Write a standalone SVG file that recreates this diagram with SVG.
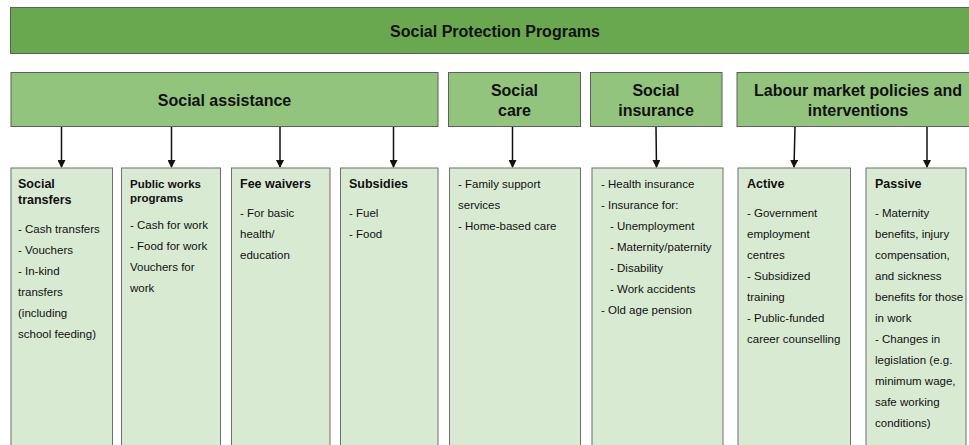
<svg xmlns="http://www.w3.org/2000/svg" width="969" height="445" viewBox="0 0 969 445">
<style>
.top{fill:#6aa84f;stroke:#5f5f5f;stroke-width:1}
.mid{fill:#93c47d;stroke:#5f5f5f;stroke-width:1}
.low{fill:#d9ead3;stroke:#6f6f6f;stroke-width:1}
text{font-family:"Liberation Sans",Arial,sans-serif;fill:#111}
.t1{font-size:16px;font-weight:bold;text-anchor:middle}
.t2{font-size:16px;font-weight:bold;text-anchor:middle}
.h{font-size:12.5px;font-weight:bold}
.hs{font-size:11.5px;font-weight:bold}
.i{font-size:11.5px}
.conn line{stroke:#111;stroke-width:1.5}
</style>
<defs>
<marker id="ah" markerWidth="8" markerHeight="8" refX="7" refY="4" orient="auto" markerUnits="userSpaceOnUse">
<path d="M0,0 L8,4 L0,8 Z" fill="#111"/>
</marker>
</defs>
<rect width="969" height="445" fill="#fff"/>

<g id="root">
<rect class="top" x="10.5" y="7.5" width="975" height="46"/>
<text class="t1" x="495" y="37">Social Protection Programs</text>
</g>

<g id="social-assistance">
<rect class="mid" x="11" y="72.5" width="427" height="54"/>
<text class="t2" x="224.5" y="106">Social assistance</text>
</g>
<g id="social-care">
<rect class="mid" x="448.5" y="72.5" width="132" height="54"/>
<text class="t2" x="514.5" y="96">Social</text>
<text class="t2" x="514.5" y="116">care</text>
</g>
<g id="social-insurance">
<rect class="mid" x="590.5" y="72.5" width="131.5" height="54"/>
<text class="t2" x="656" y="96">Social</text>
<text class="t2" x="656" y="116">insurance</text>
</g>
<g id="labour-market">
<rect class="mid" x="737" y="72.5" width="245" height="54"/>
<text class="t2" x="858" y="96">Labour market policies and</text>
<text class="t2" x="858" y="116">interventions</text>
</g>

<g class="conn" id="connectors">
<line x1="61.5" y1="127" x2="61.5" y2="167" marker-end="url(#ah)"/>
<line x1="171.5" y1="127" x2="171.5" y2="167" marker-end="url(#ah)"/>
<line x1="280" y1="127" x2="280" y2="167" marker-end="url(#ah)"/>
<line x1="393.5" y1="127" x2="393.5" y2="167" marker-end="url(#ah)"/>
<line x1="512.5" y1="127" x2="512.5" y2="167" marker-end="url(#ah)"/>
<line x1="656" y1="127" x2="656.5" y2="167" marker-end="url(#ah)"/>
<line x1="795" y1="127" x2="794" y2="167" marker-end="url(#ah)"/>
<line x1="927" y1="127" x2="927" y2="167" marker-end="url(#ah)"/>
</g>

<g id="social-transfers">
<rect class="low" x="11" y="168" width="101.5" height="290"/>
<text class="h" x="18" y="188">Social</text>
<text class="h" x="18" y="204">transfers</text>
<text class="i" x="18" y="232.5">- Cash transfers</text>
<text class="i" x="18" y="253.5">- Vouchers</text>
<text class="i" x="18" y="274.5">- In-kind</text>
<text class="i" x="18" y="295.5">transfers</text>
<text class="i" x="18" y="316.5">(including</text>
<text class="i" x="18" y="337.5">school feeding)</text>
</g>

<g id="public-works">
<rect class="low" x="121.5" y="168" width="99" height="290"/>
<text class="hs" x="130" y="187.5">Public works</text>
<text class="hs" x="130" y="201.5">programs</text>
<text class="i" x="130" y="229">- Cash for work</text>
<text class="i" x="130" y="250">- Food for work</text>
<text class="i" x="130" y="271">Vouchers for</text>
<text class="i" x="130" y="292">work</text>
</g>

<g id="fee-waivers">
<rect class="low" x="231.5" y="168" width="98.5" height="290"/>
<text class="h" x="240" y="188">Fee waivers</text>
<text class="i" x="240" y="216.5">- For basic</text>
<text class="i" x="240" y="237.5">health/</text>
<text class="i" x="240" y="258.5">education</text>
</g>

<g id="subsidies">
<rect class="low" x="340.5" y="168" width="97.5" height="290"/>
<text class="h" x="349" y="188">Subsidies</text>
<text class="i" x="349" y="216.5">- Fuel</text>
<text class="i" x="349" y="237.5">- Food</text>
</g>

<g id="social-care-items">
<rect class="low" x="449.5" y="168" width="131" height="290"/>
<text class="i" x="458" y="187.5">- Family support</text>
<text class="i" x="458" y="208.5">services</text>
<text class="i" x="458" y="229.5">- Home-based care</text>
</g>

<g id="social-insurance-items">
<rect class="low" x="592" y="168" width="131" height="290"/>
<text class="i" x="601" y="187.5">- Health insurance</text>
<text class="i" x="601" y="208.5">- Insurance for:</text>
<text class="i" x="610" y="229.5">- Unemployment</text>
<text class="i" x="610" y="250.5">- Maternity/paternity</text>
<text class="i" x="610" y="271.5">- Disability</text>
<text class="i" x="610" y="292.5">- Work accidents</text>
<text class="i" x="601" y="313.5">- Old age pension</text>
</g>

<g id="active">
<rect class="low" x="738" y="168" width="112.5" height="290"/>
<text class="h" x="747" y="188">Active</text>
<text class="i" x="747" y="216.5">- Government</text>
<text class="i" x="747" y="237.5">employment</text>
<text class="i" x="747" y="258.5">centres</text>
<text class="i" x="747" y="279.5">- Subsidized</text>
<text class="i" x="747" y="300.5">training</text>
<text class="i" x="747" y="321.5">- Public-funded</text>
<text class="i" x="747" y="342.5">career counselling</text>
</g>

<g id="passive">
<rect class="low" x="866" y="168" width="100" height="290"/>
<text class="h" x="875" y="188">Passive</text>
<text class="i" x="875" y="216.5">- Maternity</text>
<text class="i" x="875" y="237.5">benefits, injury</text>
<text class="i" x="875" y="258.5">compensation,</text>
<text class="i" x="875" y="279.5">and sickness</text>
<text class="i" x="875" y="300.5">benefits for those</text>
<text class="i" x="875" y="321.5">in work</text>
<text class="i" x="875" y="342.5">- Changes in</text>
<text class="i" x="875" y="363.5">legislation (e.g.</text>
<text class="i" x="875" y="384.5">minimum wage,</text>
<text class="i" x="875" y="405.5">safe working</text>
<text class="i" x="875" y="426.5">conditions)</text>
</g>
</svg>
